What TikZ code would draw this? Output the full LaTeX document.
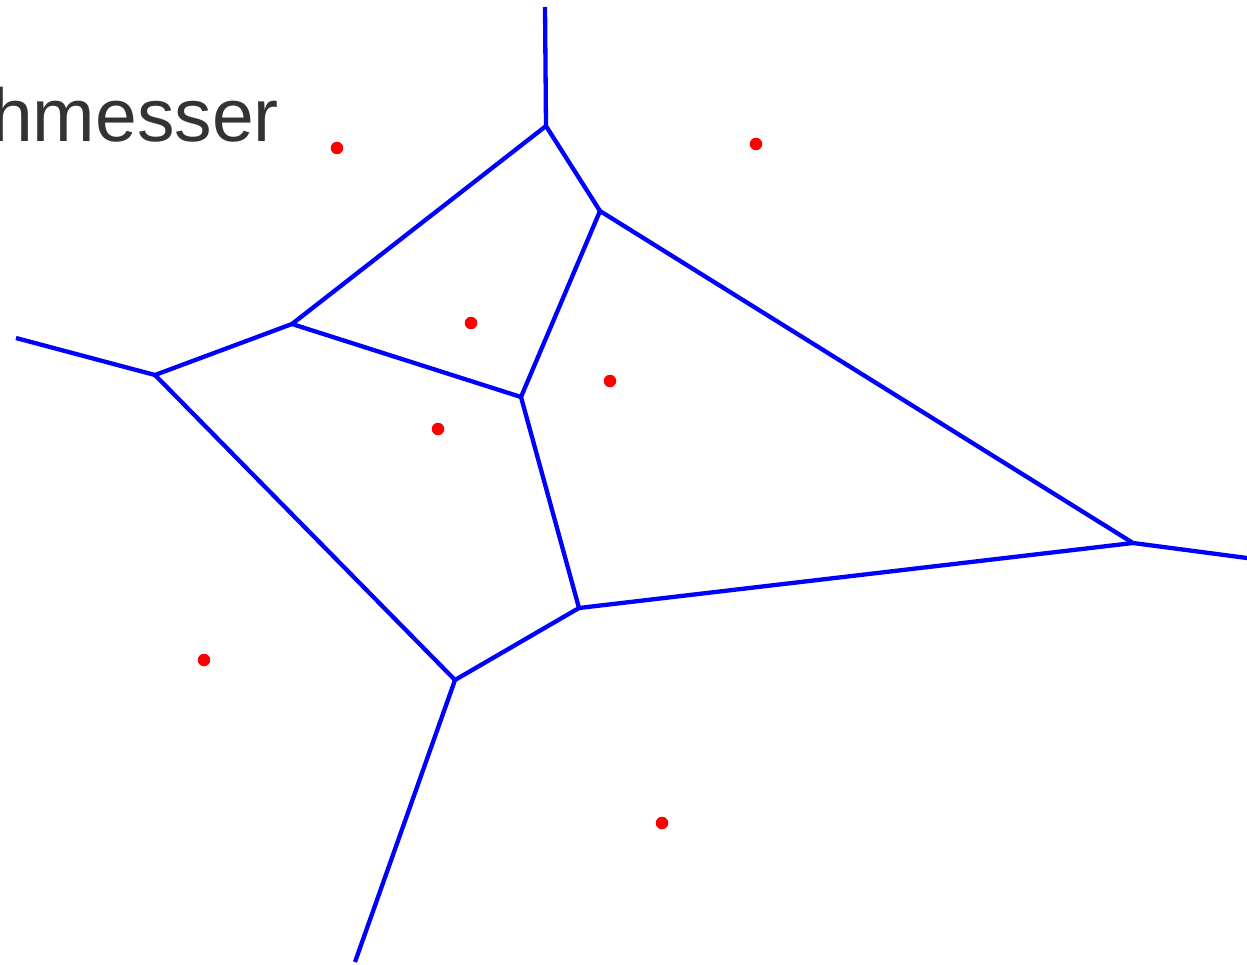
\documentclass[tikz,border=0pt]{standalone}
\usepackage{fontspec}
\setmainfont{Liberation Sans}
\definecolor{txt}{HTML}{333333}
\definecolor{vblue}{RGB}{0,0,255}
\definecolor{vred}{RGB}{255,0,0}
\tikzset{
  edge/.style={draw=vblue,line width=4.3pt,line join=miter},
  site/.style={circle,fill=vred,inner sep=0pt,minimum size=12.5pt},
  vert/.style={coordinate}
}
\begin{document}
\begin{tikzpicture}[x=1pt,y=-1pt]
\useasboundingbox (0,0) rectangle (1247,965);
\clip (0,0) rectangle (1247,965);
\fill[white] (0,0) rectangle (1247,965);
\node[anchor=base east,text=txt,font=\fontsize{75}{80}\selectfont,inner sep=0pt] (title) at (279,142) {hmesser};
\coordinate (A) at (545,7);
\coordinate (B) at (546,126);
\coordinate (C) at (600,211);
\coordinate (D) at (292,324);
\coordinate (E) at (155,375);
\coordinate (F) at (16,338);
\coordinate (G) at (521,397);
\coordinate (H) at (579,608);
\coordinate (I) at (455,680);
\coordinate (J) at (355,962);
\coordinate (K) at (1133,543);
\coordinate (L) at (1250,558.4);
\draw[edge] (A) -- (B) -- (C) -- (K) -- (L);
\draw[edge] (B) -- (D) -- (E) -- (F);
\draw[edge] (D) -- (G) -- (C);
\draw[edge] (G) -- (H) -- (K);
\draw[edge] (H) -- (I) -- (J);
\draw[edge] (E) -- (I);
\node[site] (s1) at (337,148) {};
\node[site] (s2) at (756,144) {};
\node[site] (s3) at (471,323) {};
\node[site] (s4) at (610,381) {};
\node[site] (s5) at (438,429) {};
\node[site] (s6) at (204,660) {};
\node[site] (s7) at (662,823) {};
\end{tikzpicture}
\end{document}
